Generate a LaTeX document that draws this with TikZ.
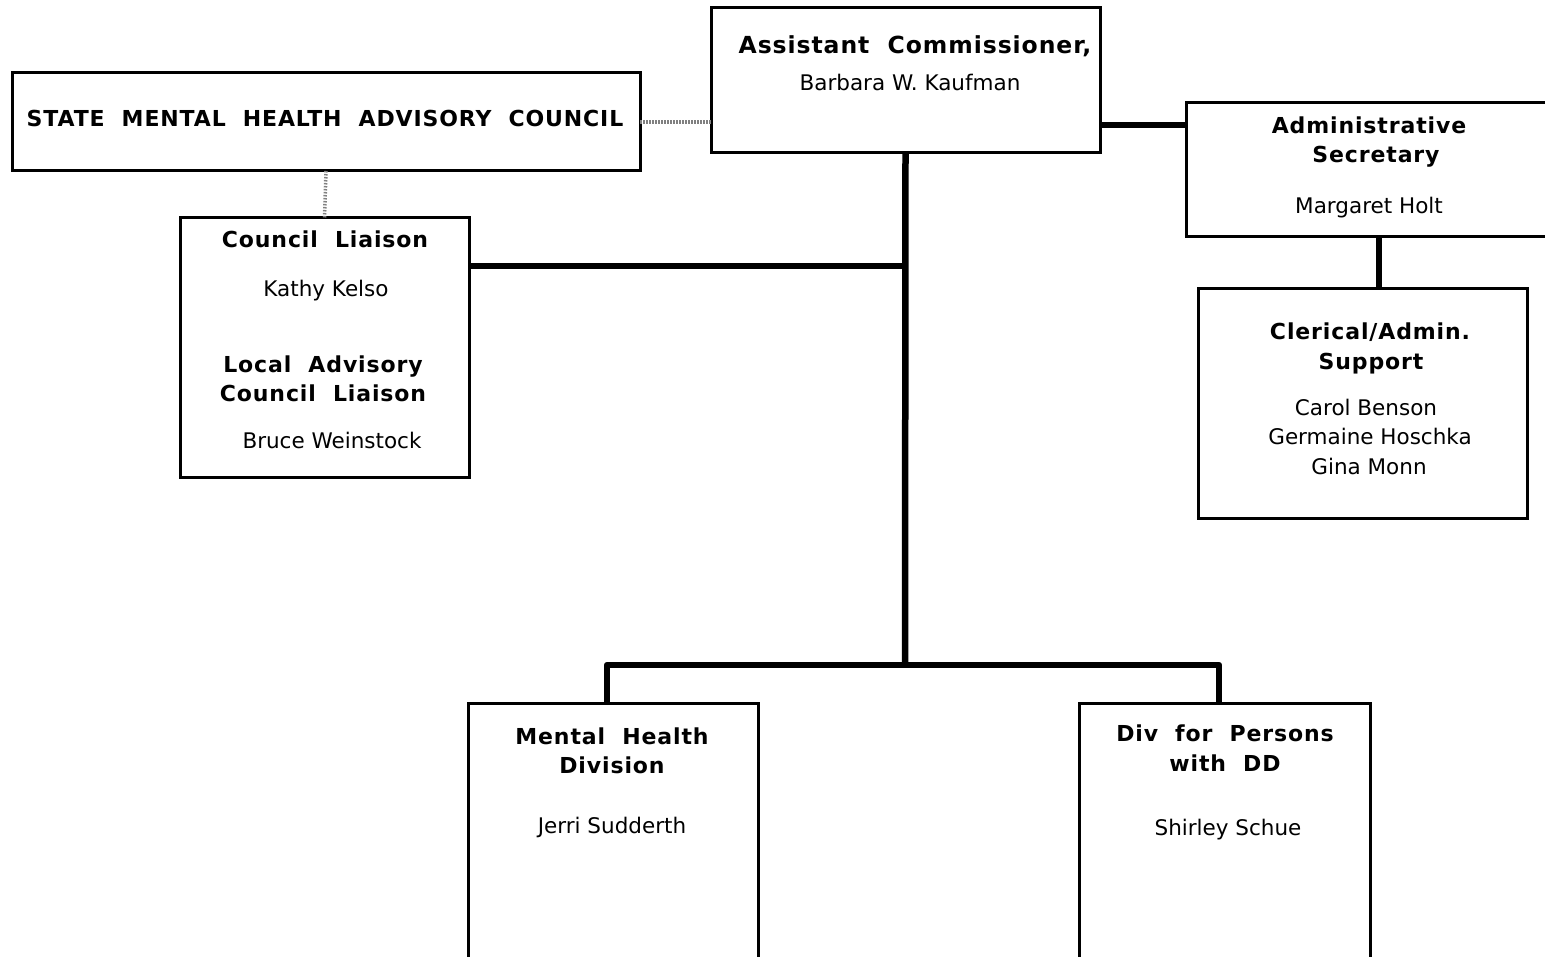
\documentclass[tikz,border=0pt]{standalone}
\usepackage{fontspec}
\setmainfont{DejaVu Sans}
\newfontfamily\hdfont{DejaVu Sans}[LetterSpace=4,WordSpace=2]
\begin{document}
\begin{tikzpicture}[x=1pt,y=-1pt,
  box/.style={draw, line width=3pt, inner sep=0pt, outer sep=0pt},
  wire/.style={line width=6.5pt, line join=round},
  dotline/.style={line width=3.5pt, black!50, dash pattern=on 1.5pt off 1.5pt},
  hd/.style={anchor=base, inner sep=0pt, font=\hdfont\bfseries\fontsize{22}{29}\selectfont},
  bighd/.style={anchor=base, inner sep=0pt, font=\hdfont\bfseries\fontsize{23.5}{29}\selectfont},
  nm/.style={anchor=base, inner sep=0pt, font=\fontsize{21.5}{29}\selectfont}]
\useasboundingbox (0,0) rectangle (1545,957);
\clip (0,0) rectangle (1545,957);

% boxes
\node[box, minimum width=389, minimum height=145] (ac)  at (905.5,80.5) {};
\node[box, minimum width=628, minimum height=98]  (smh) at (326,122) {};
\node[box, minimum width=289, minimum height=259] (cl)  at (324.5,347.5) {};
\node[box, minimum width=380, minimum height=134] (as)  at (1376,170) {};
\node[box, minimum width=329, minimum height=229] (ca)  at (1362.5,403.5) {};
\node[box, minimum width=290, minimum height=300] (mh)  at (613,853) {};
\node[box, minimum width=291, minimum height=300] (dd)  at (1224.5,853) {};

% junction points
\coordinate (hub) at (905,665);
\coordinate (clj) at (905,266);
\coordinate (bl)  at (607,665);
\coordinate (br)  at (1219,665);
\coordinate (asj) at (1143,125);
\coordinate (caj) at (1379,263);

% connectors
\draw[dotline] (smh.east) -- (smh.east -| ac.west);
\draw[dotline] (smh.south) -- (cl.north);
\draw[wire] (ac.south) -- (hub);
\draw[wire] (cl.east |- clj) -- (clj);
\draw[wire] (mh.north -| bl) -- (bl) -- (br) -- (dd.north -| br);
\draw[wire] (ac.east |- asj) -- (as.west |- asj);
\draw[wire] (as.south -| caj) -- (ca.north -| caj);

% texts
\node[bighd] (ac1) at (915,54) {Assistant Commissioner,};
\node[nm] (ac2) at (910,91) {Barbara W. Kaufman};

\node[hd] (smh1) at (325,127) {STATE MENTAL HEALTH ADVISORY COUNCIL};

\node[hd] (cl1) at (325,248) {Council Liaison};
\node[nm] (cl2) at (326,297) {Kathy Kelso};
\node[hd] (cl3) at (323,373) {Local Advisory};
\node[hd] (cl4) at (323,402) {Council Liaison};
\node[nm] (cl5) at (332,448) {Bruce Weinstock};

\node[hd] (as1) at (1369,134) {Administrative};
\node[hd] (as2) at (1376,163) {Secretary};
\node[nm] (as3) at (1369,214) {Margaret Holt};

\node[hd] (ca1) at (1370,340) {Clerical/Admin.};
\node[hd] (ca2) at (1371,370) {Support};
\node[nm] (ca3) at (1366,416) {Carol Benson};
\node[nm] (ca4) at (1370,445) {Germaine Hoschka};
\node[nm] (ca5) at (1369,474) {Gina Monn};

\node[hd] (mh1) at (612,744) {Mental Health};
\node[hd] (mh2) at (612,773) {Division};
\node[nm] (mh3) at (612,833) {Jerri Sudderth};

\node[hd] (dd1) at (1225,741) {Div for Persons};
\node[hd] (dd2) at (1225,771) {with DD};
\node[nm] (dd3) at (1228,835) {Shirley Schue};
\end{tikzpicture}
\end{document}
